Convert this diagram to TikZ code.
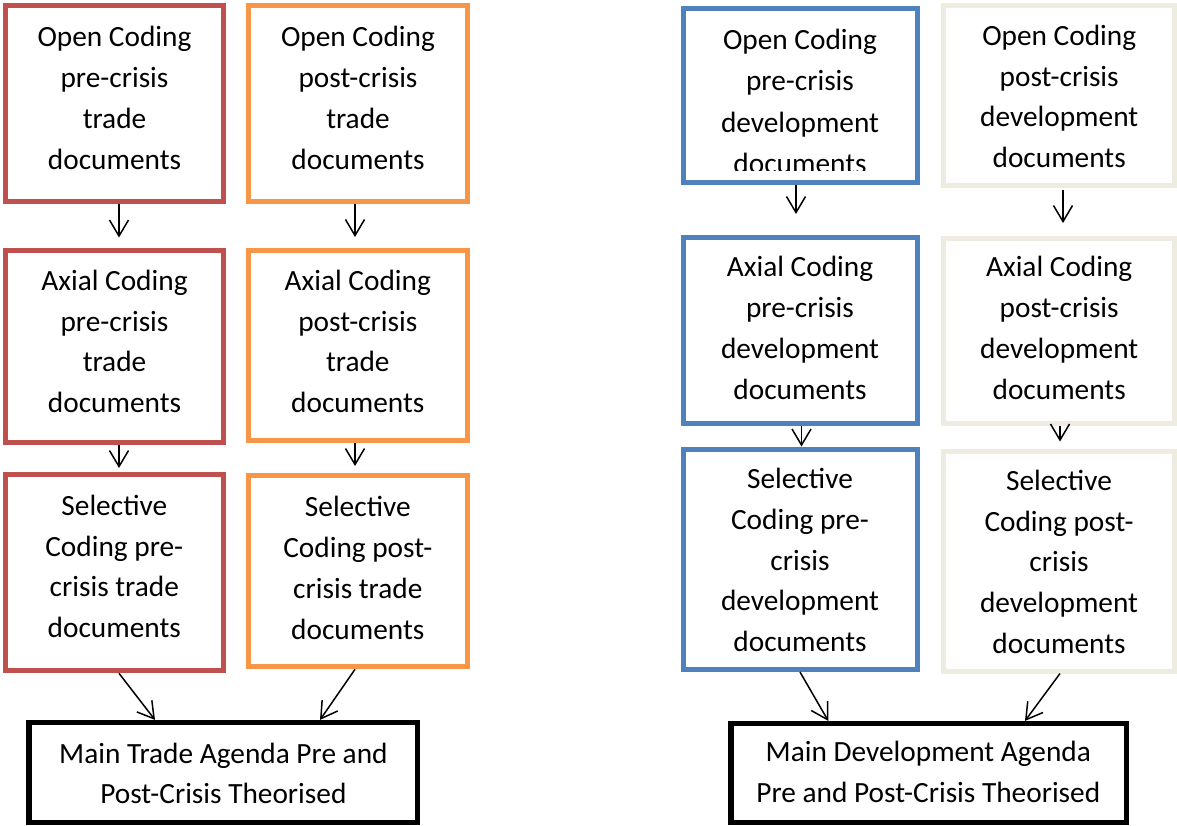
\documentclass[tikz,border=0pt]{standalone}
\usepackage{fontspec}
\setmainfont{Carlito}
\usetikzlibrary{arrows.meta}
\definecolor{cred}{HTML}{C0504D}
\definecolor{corange}{HTML}{F79646}
\definecolor{cblue}{HTML}{4F81BD}
\definecolor{cbeige}{HTML}{EEECE1}
\begin{document}
\begin{tikzpicture}[x=1pt,y=-1pt,
  box/.style={draw, line width=5pt, inner sep=0pt, rectangle},
  mainbox/.style={draw=black, line width=5.2pt, inner sep=0pt, rectangle},
  txt/.style={anchor=north, yshift=25pt, inner sep=0pt, align=center,
    font=\fontsize{29.33}{40.8}\selectfont},
  cliptxt/.style={txt, font=\fontsize{29.33}{41.2}\selectfont},
  maintxt/.style={txt, font=\fontsize{29.33}{40.2}\selectfont},
  arr/.style={line width=1.5pt, -{Straight Barb[length=16pt,width=19pt,line width=1.5pt]}}]
\useasboundingbox[fill=white] (0,0) rectangle (1177,825);
% ---- boxes ----
\node[box, draw=cred, minimum width=218.5pt, minimum height=196.5pt] (RO) at (114.25,103.25) {};
\node[box, draw=corange, minimum width=219.5pt, minimum height=196.5pt] (OO) at (357.75,103.25) {};
\node[box, draw=cred, minimum width=218.5pt, minimum height=192pt] (RA) at (114.25,346.5) {};
\node[box, draw=corange, minimum width=219.5pt, minimum height=190pt] (OA) at (357.75,345.5) {};
\node[box, draw=cred, minimum width=218.5pt, minimum height=196.6pt] (RS) at (114.25,572.5) {};
\node[box, draw=corange, minimum width=219.5pt, minimum height=191pt] (OS) at (357.75,571.3) {};
\node[mainbox, minimum width=388.5pt, minimum height=100pt] (MT) at (223.25,772.5) {};
\node[box, draw=cblue, minimum width=233.5pt, minimum height=174pt] (BO) at (800.25,95.5) {};
\node[box, draw=cbeige, minimum width=231.5pt, minimum height=180pt] (EO) at (1058.75,95.5) {};
\node[box, draw=cblue, minimum width=233.5pt, minimum height=185.5pt] (BA) at (800.25,330.25) {};
\node[box, draw=cbeige, minimum width=231.5pt, minimum height=185pt] (EA) at (1058.75,330.5) {};
\node[box, draw=cblue, minimum width=233.5pt, minimum height=220.5pt] (BS) at (800.25,559.25) {};
\node[box, draw=cbeige, minimum width=231.5pt, minimum height=220pt] (ES) at (1058.75,561) {};
\node[mainbox, minimum width=395.5pt, minimum height=99pt] (MD) at (928.75,773) {};
% ---- texts ----
\node[txt] (ROt) at (114.5,46.7) {\rule{0pt}{25pt}Open Coding\\pre-crisis\\trade\\documents};
\node[txt] (OOt) at (358,46.7) {\rule{0pt}{25pt}Open Coding\\post-crisis\\trade\\documents};
\node[txt] (RAt) at (114.5,290) {\rule{0pt}{25pt}Axial Coding\\pre-crisis\\trade\\documents};
\node[txt] (OAt) at (357.8,290) {\rule{0pt}{25pt}Axial Coding\\post-crisis\\trade\\documents};
\node[txt] (RSt) at (114.3,515) {\rule{0pt}{25pt}Selective\\Coding pre-\\crisis trade\\documents};
\node[txt] (OSt) at (357.8,516.5) {\rule{0pt}{25pt}Selective\\Coding post-\\crisis trade\\documents};
\node[maintxt] (MTt) at (223.4,763.3) {\rule{0pt}{25pt}Main Trade Agenda Pre and\\Post-Crisis Theorised};
\begin{scope}
\clip (683.5,8.5) rectangle (917,170);
\node[cliptxt] (BOt) at (800,49.5) {\rule{0pt}{25pt}Open Coding\\pre-crisis\\development\\documents};
\end{scope}
\node[txt] (EOt) at (1059.2,45) {\rule{0pt}{25pt}Open Coding\\post-crisis\\development\\documents};
\node[txt] (BAt) at (800,276.7) {\rule{0pt}{25pt}Axial Coding\\pre-crisis\\development\\documents};
\node[txt] (EAt) at (1059.2,276.7) {\rule{0pt}{25pt}Axial Coding\\post-crisis\\development\\documents};
\node[txt] (BSt) at (800,488.3) {\rule{0pt}{25pt}Selective\\Coding pre-\\crisis\\development\\documents};
\node[txt] (ESt) at (1059,490) {\rule{0pt}{25pt}Selective\\Coding post-\\crisis\\development\\documents};
\node[maintxt] (MDt) at (928.3,761.7) {\rule{0pt}{25pt}Main Development Agenda\\Pre and Post-Crisis Theorised};
% ---- connectors ----
\draw[arr] ([xshift=4.75pt]RO.south) -- ([xshift=4.75pt,yshift=10.5pt]RA.north);
\draw[arr] ([xshift=-2.75pt]OO.south) -- ([xshift=-2.75pt,yshift=11pt]OA.north);
\draw[arr] ([xshift=4.75pt]RA.south) -- ([xshift=4.75pt,yshift=3.7pt]RS.north);
\draw[arr] ([xshift=-2.75pt]OA.south) -- ([xshift=-2.75pt,yshift=7.3pt]OS.north);
\draw[arr] ([xshift=-4.25pt]BO.south) -- ([xshift=-4.25pt,yshift=21pt]BA.north);
\draw[arr] ([xshift=4.25pt,yshift=-2pt]EO.south) -- ([xshift=4.25pt,yshift=12.5pt]EA.north);
\draw[arr] ([xshift=1.25pt]BA.south) -- ([xshift=1.25pt]BS.north);
\draw[arr] ([xshift=1.25pt]EA.south) -- ([xshift=1.25pt,yshift=7pt]ES.north);
\draw[arr] ([xshift=4.75pt]RS.south) -- ([xshift=-68.25pt]MT.north);
\draw[arr] ([xshift=-2.75pt]OS.south) -- ([xshift=96.75pt]MT.north);
\draw[arr] ([xshift=-0.25pt]BS.south) -- ([xshift=-100.5pt]MD.north);
\draw[arr] ([xshift=1.25pt]ES.south) -- ([xshift=96.25pt]MD.north);
\end{tikzpicture}
\end{document}
